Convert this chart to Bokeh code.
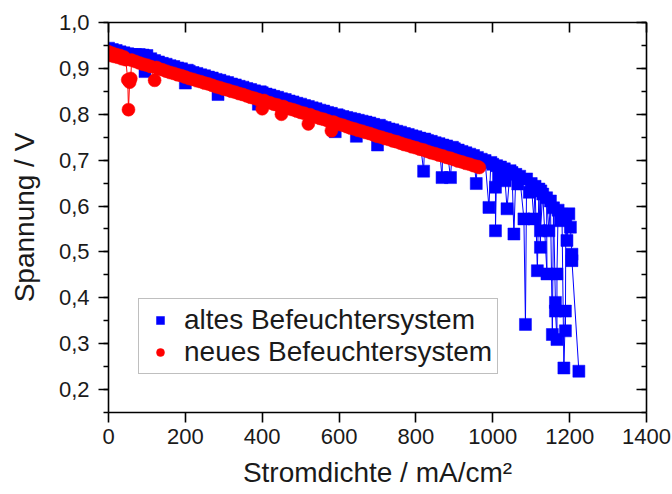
from bokeh.plotting import figure
from bokeh.models import (LinearAxis, SingleIntervalTicker, CustomJSTickFormatter,
                          Range1d, Legend, LegendItem)
from bokeh.embed import file_html
from bokeh.resources import INLINE

# ---- data ----
blue_x = [0, 10, 20, 30, 40, 50, 60, 70, 80, 90, 95, 100, 110, 120, 130, 140, 150, 160, 170, 180,
          190, 200, 205, 210, 220, 230, 240, 250, 260, 270, 280, 285, 290, 300, 310, 320, 330, 340,
          350, 360, 370, 380, 390, 395, 400, 410, 420, 430, 440, 450, 460, 470, 480, 490, 500, 510,
          520, 530, 540, 550, 560, 570, 580, 590, 595, 600, 610, 620, 630, 640, 645, 650, 660, 670,
          680, 690, 700, 705, 710, 720, 730, 740, 750, 760, 770, 780, 790, 800, 810, 820, 823, 830,
          840, 850, 860, 868, 870, 880, 890, 895, 900, 910, 920, 930, 940, 950, 957, 960, 970, 980,
          990, 995, 1000, 1007, 1007, 1010, 1015, 1020, 1030, 1032, 1037, 1045, 1050, 1055, 1060,
          1065, 1070, 1081, 1085, 1088, 1095, 1100, 1107, 1110, 1116, 1120, 1124, 1125, 1124, 1130,
          1141, 1140, 1146, 1150, 1155, 1158, 1163, 1163, 1167, 1167, 1170, 1176, 1180, 1185, 1189,
          1189, 1190, 1193, 1198, 1202, 1206, 1206, 1224]
blue_y = [0.944, 0.941, 0.939, 0.936, 0.934, 0.932, 0.930, 0.930, 0.930, 0.929, 0.893, 0.928, 0.921,
          0.917, 0.914, 0.911, 0.909, 0.906, 0.904, 0.901, 0.899, 0.868, 0.896, 0.894, 0.891, 0.889,
          0.886, 0.884, 0.881, 0.879, 0.876, 0.843, 0.874, 0.871, 0.869, 0.866, 0.864, 0.861, 0.859,
          0.856, 0.854, 0.851, 0.822, 0.849, 0.847, 0.844, 0.842, 0.839, 0.837, 0.834, 0.832, 0.829,
          0.827, 0.824, 0.822, 0.819, 0.817, 0.814, 0.812, 0.809, 0.807, 0.804, 0.802, 0.762, 0.799,
          0.797, 0.795, 0.793, 0.791, 0.789, 0.752, 0.787, 0.785, 0.783, 0.781, 0.778, 0.733, 0.776,
          0.773, 0.771, 0.768, 0.766, 0.763, 0.761, 0.758, 0.756, 0.753, 0.751, 0.748, 0.676, 0.746,
          0.743, 0.741, 0.738, 0.736, 0.662, 0.733, 0.731, 0.662, 0.728, 0.725, 0.722, 0.719, 0.716,
          0.713, 0.710, 0.649, 0.706, 0.702, 0.699, 0.597, 0.695, 0.691, 0.641, 0.546, 0.688, 0.665,
          0.685, 0.681, 0.655, 0.594, 0.677, 0.673, 0.539, 0.669, 0.648, 0.665, 0.572, 0.342, 0.659,
          0.630, 0.649, 0.572, 0.643, 0.459, 0.637, 0.510, 0.633, 0.546, 0.626, 0.452, 0.618, 0.546,
          0.611, 0.320, 0.596, 0.390, 0.371, 0.309, 0.452, 0.591, 0.568, 0.582, 0.247, 0.371, 0.328,
          0.572, 0.525, 0.583, 0.554, 0.495, 0.481, 0.240]

red_x = [0, 5, 10, 15, 20, 25, 30, 35, 40, 45, 50, 52, 55, 58, 60, 70, 80, 90, 100, 110, 120, 125,
         130, 140, 150, 160, 170, 180, 190, 200, 210, 220, 230, 240, 250, 260, 270, 280, 290, 300,
         310, 320, 330, 340, 350, 360, 370, 380, 390, 400, 405, 410, 420, 430, 440, 450, 455, 460,
         470, 480, 490, 500, 510, 520, 525, 530, 540, 550, 560, 570, 580, 585, 590, 600, 610, 620,
         630, 640, 650, 660, 670, 680, 690, 700, 710, 720, 730, 740, 750, 760, 770, 780, 790, 800,
         810, 820, 830, 840, 850, 860, 870, 880, 890, 900, 910, 920, 930, 940, 950, 960, 965]
red_y = [0.936, 0.928, 0.933, 0.926, 0.930, 0.924, 0.928, 0.921, 0.925, 0.919, 0.875, 0.810, 0.870,
         0.878, 0.918, 0.915, 0.912, 0.909, 0.907, 0.904, 0.874, 0.902, 0.899, 0.897, 0.894, 0.891,
         0.889, 0.886, 0.884, 0.881, 0.878, 0.876, 0.873, 0.871, 0.868, 0.866, 0.863, 0.860, 0.858,
         0.855, 0.853, 0.850, 0.848, 0.845, 0.843, 0.840, 0.837, 0.835, 0.832, 0.812, 0.830, 0.827,
         0.825, 0.822, 0.820, 0.800, 0.817, 0.814, 0.812, 0.810, 0.807, 0.804, 0.802, 0.779, 0.799,
         0.796, 0.794, 0.791, 0.789, 0.786, 0.764, 0.783, 0.781, 0.778, 0.776, 0.773, 0.770, 0.768,
         0.765, 0.763, 0.760, 0.758, 0.755, 0.752, 0.750, 0.747, 0.745, 0.742, 0.740, 0.737, 0.734,
         0.732, 0.729, 0.727, 0.724, 0.722, 0.719, 0.716, 0.714, 0.711, 0.709, 0.706, 0.704, 0.701,
         0.698, 0.696, 0.693, 0.691, 0.688, 0.686, 0.684]

series_labels = ["altes Befeuchtersystem", "neues Befeuchtersystem"]
x_title = "Stromdichte / mA/cm²"
y_title = "Spannung / V"

FONT = "Liberation Sans"

p = figure(width=672, height=494, output_backend="svg", toolbar_location=None,
           x_range=Range1d(0, 1400), y_range=Range1d(0.15, 1.0),
           min_border_left=108, min_border_right=26, min_border_top=22, min_border_bottom=82,
           background_fill_color="white", border_fill_color="white", outline_line_color=None)
p.grid.visible = False

fmt_y = CustomJSTickFormatter(code="return tick.toFixed(1).replace('.', ',');")

xa = p.xaxis[0]
xa.ticker = SingleIntervalTicker(interval=200, num_minor_ticks=0)
xa.axis_label = x_title
ya = p.yaxis[0]
ya.ticker = SingleIntervalTicker(interval=0.1, num_minor_ticks=2)
ya.formatter = fmt_y
ya.axis_label = y_title

for ax in (xa, ya):
    ax.axis_line_width = 1.6
    ax.axis_line_color = "black"
    ax.major_tick_line_color = "black"
    ax.major_tick_line_width = 1.6
    ax.minor_tick_line_color = "black"
    ax.minor_tick_line_width = 1.6
    ax.major_tick_out = 10
    ax.major_tick_in = 0
    ax.minor_tick_out = 5
    ax.minor_tick_in = 0
    ax.major_label_text_font = FONT
    ax.major_label_text_font_size = "22px"
    ax.major_label_text_color = "#1a1a1a"
    ax.axis_label_text_font = FONT
    ax.axis_label_text_font_size = "28px"
    ax.axis_label_text_font_style = "normal"
    ax.axis_label_text_color = "#1a1a1a"
xa.major_label_standoff = 6
xa.axis_label_standoff = 10
ya.major_label_standoff = 9
ya.axis_label_standoff = 16

top = LinearAxis(ticker=SingleIntervalTicker(interval=200, num_minor_ticks=0))
right = LinearAxis(ticker=SingleIntervalTicker(interval=0.1, num_minor_ticks=2))
for ax in (top, right):
    ax.axis_line_width = 1.6
    ax.axis_line_color = "black"
    ax.major_tick_line_width = 1.6
    ax.minor_tick_line_width = 1.6
    ax.major_tick_in = 10
    ax.major_tick_out = 0
    ax.minor_tick_in = 5
    ax.minor_tick_out = 0
    ax.major_label_text_font_size = "0px"
    ax.major_label_standoff = 0
p.add_layout(top, "above")
p.add_layout(right, "right")

# blue (old) series
p.line(blue_x, blue_y, line_color="#0000ff", line_width=1)
bs = p.scatter(blue_x, blue_y, marker="square", size=12, fill_color="#0000ff",
               line_color="#0000ff", line_width=0.5)
# red (new) series on top
p.line(red_x, red_y, line_color="#ff0000", line_width=1)
rs = p.scatter(red_x, red_y, marker="circle", size=13, fill_color="#ff0000",
               line_color="#ff0000", line_width=0.5)

legend = Legend(items=[LegendItem(label=series_labels[0], renderers=[bs]),
                       LegendItem(label=series_labels[1], renderers=[rs])],
                location=(30, 38), padding=5, spacing=0, margin=0,
                glyph_width=32, glyph_height=20, label_height=32, label_standoff=8,
                label_text_font=FONT, label_text_font_size="28px", label_text_color="#1a1a1a",
                border_line_color="#808080", border_line_width=1.5,
                background_fill_color="white", background_fill_alpha=1.0)
p.add_layout(legend)

open("out.html", "w").write(file_html(p, INLINE))
